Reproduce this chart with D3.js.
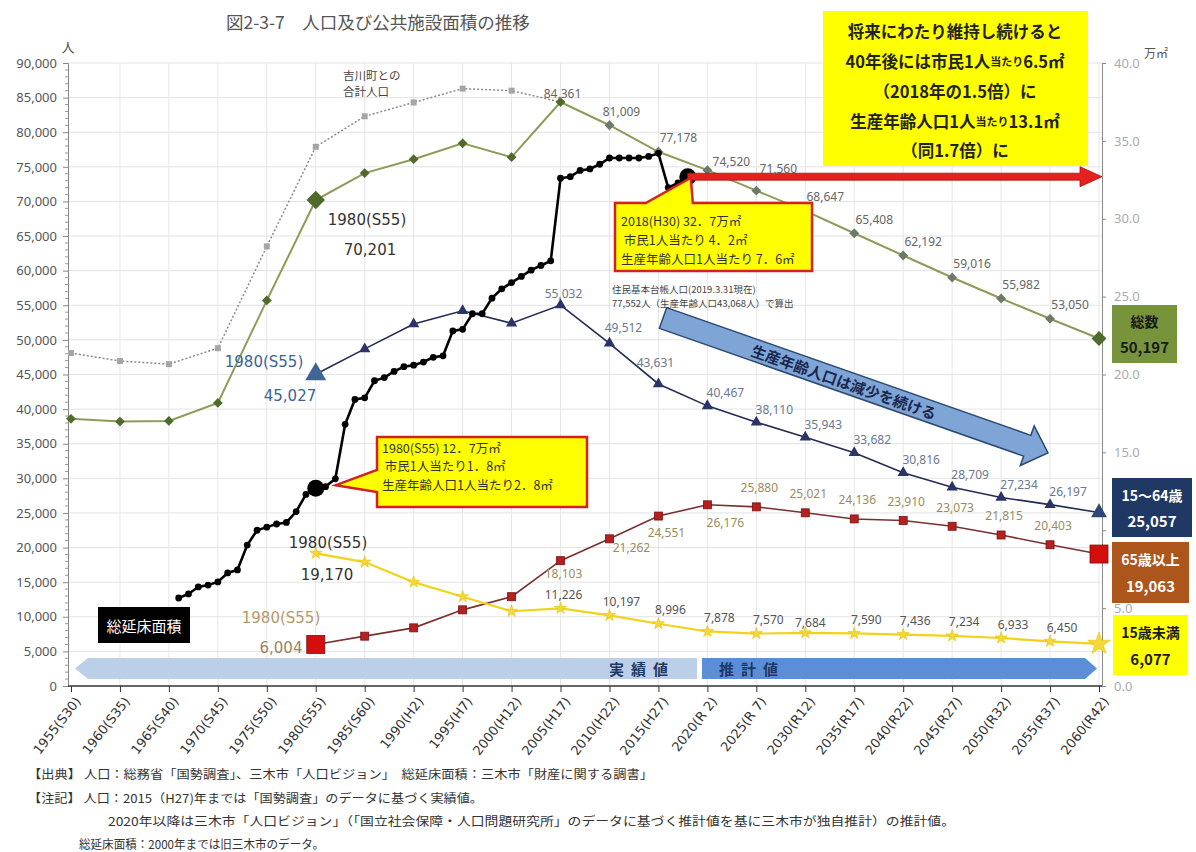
<!DOCTYPE html>
<html><head><meta charset="utf-8">
<script src="https://cdn.jsdelivr.net/npm/d3@7"></script>
<style>
body{margin:0;background:#fff;}
svg{display:block;font-family:"Noto Sans CJK JP","Noto Sans",sans-serif;}
</style></head><body>
<svg id="c" width="1196" height="852"></svg>
<script>
// ---------------- DATA ----------------
const years = [1955,1960,1965,1970,1975,1980,1985,1990,1995,2000,2005,2010,2015,2020,2025,2030,2035,2040,2045,2050,2055,2060];
const xLabels = ["1955(S30)","1960(S35)","1965(S40)","1970(S45)","1975(S50)","1980(S55)","1985(S60)","1990(H2)","1995(H7)","2000(H12)","2005(H17)","2010(H22)","2015(H27)","2020(R 2)","2025(R 7)","2030(R12)","2035(R17)","2040(R22)","2045(R27)","2050(R32)","2055(R37)","2060(R42)"];
const totalPop = [38600,38200,38300,40900,55700,70201,74100,76100,78400,76400,84361,81009,77178,74520,71560,68647,65408,62192,59016,55982,53050,50197];
const combinedYears = [1955,1960,1965,1970,1975,1980,1985,1990,1995,2000,2005];
const combinedPop = [48100,46950,46500,48800,63500,77900,82300,84300,86300,86000,84361];
const workYears = [1980,1985,1990,1995,2000,2005,2010,2015,2020,2025,2030,2035,2040,2045,2050,2055,2060];
const workPop = [45027,48700,52300,54200,52400,55032,49512,43631,40467,38110,35943,33682,30816,28709,27234,26197,25057];
const elderPop = [6004,7200,8400,11000,12900,18103,21262,24551,26176,25880,25021,24136,23910,23073,21815,20403,19063];
const childPop = [19170,17900,15000,12900,10800,11226,10197,8996,7878,7570,7684,7590,7436,7234,6933,6450,6077];
const floorYears = d3.range(1966, 2019);
const floorArea = [5.65,5.91,6.36,6.48,6.68,7.26,7.45,9.05,10.0,10.2,10.4,10.5,11.2,12.3,12.7,12.8,13.3,16.8,18.4,18.5,19.6,19.8,20.2,20.5,20.6,20.8,21.1,21.2,22.8,22.9,23.9,23.9,24.9,25.5,25.9,26.3,26.7,27.0,27.3,32.6,32.7,33.1,33.2,33.5,33.9,33.9,33.9,33.9,34.0,34.2,32.0,32.3,32.7];
const leftTicks = d3.range(0, 90001, 5000);
const rightTicks = d3.range(0, 40.1, 5);

// ---------------- SETUP ----------------
const svg = d3.select("#c");
const X0 = 68, X1 = 1102, Y0 = 686, Y1 = 63;
const x = d3.scaleLinear().domain([1955,2060]).range([71,1099]);
const yL = d3.scaleLinear().domain([0,90000]).range([Y0,Y1]);
const yR = d3.scaleLinear().domain([0,40]).range([Y0,Y1]);
const fmt = d3.format(",");
const NUMF = "Noto Sans, sans-serif";
const WIDEF = "DejaVu Sans, sans-serif";

// title
svg.append("text").attr("x",226).attr("y",21).attr("font-size",17.5).attr("fill","#555")
  .attr("dominant-baseline","central").text("図2-3-7　人口及び公共施設面積の推移");

// grid
const g = svg.append("g");
g.selectAll("line.h").data(leftTicks.filter(d=>d>0)).join("line")
  .attr("x1",X0).attr("x2",X1).attr("y1",d=>yL(d)).attr("y2",d=>yL(d))
  .attr("stroke","#e3e3e3").attr("stroke-width",1);
g.selectAll("line.v").data(years.slice(1)).join("line")
  .attr("x1",d=>x(d)).attr("x2",d=>x(d)).attr("y1",Y1).attr("y2",Y0)
  .attr("stroke","#e6e6e6").attr("stroke-width",1);

// left axis
const la = svg.append("g").attr("transform",`translate(${X0},0)`)
  .call(d3.axisLeft(yL).tickValues(leftTicks).tickFormat(fmt).tickSize(5).tickPadding(6));
la.select(".domain").attr("stroke","#888");
la.selectAll(".tick line").attr("stroke","#888");
la.selectAll("text").attr("font-size",13).attr("fill","#555").attr("font-family",NUMF);
svg.append("g").selectAll("line").data(d3.range(0,90001,1000).filter(d=>d%5000)).join("line")
  .attr("x1",X0-3).attr("x2",X0).attr("y1",d=>yL(d)).attr("y2",d=>yL(d)).attr("stroke","#999");
svg.append("text").attr("x",68).attr("y",52).attr("font-size",13).attr("fill","#555")
  .attr("text-anchor","middle").text("人");

// right axis
const ra = svg.append("g").attr("transform",`translate(${X1},0)`)
  .call(d3.axisRight(yR).tickValues(rightTicks).tickFormat(d3.format(".1f")).tickSize(4).tickPadding(8));
ra.select(".domain").attr("stroke","#888");
ra.selectAll(".tick line").attr("stroke","#888");
ra.selectAll("text").attr("font-size",13).attr("fill","#aaa").attr("font-family",NUMF);
svg.append("text").attr("x",1156).attr("y",58).attr("font-size",12).attr("fill","#555")
  .attr("text-anchor","middle").text("万㎡");

// bottom axis
const ba = svg.append("g").attr("transform",`translate(0,${Y0})`)
  .call(d3.axisBottom(x).tickValues(years).tickFormat((d,i)=>xLabels[i]).tickSize(6).tickSizeOuter(0));
ba.select(".domain").attr("d",`M${X0},0H${X1}`).attr("stroke","#333").attr("stroke-width",1.5);
ba.selectAll(".tick line").attr("stroke","#333");
ba.selectAll(".tick text").attr("font-size",13).attr("fill","#333").attr("font-family",WIDEF)
  .attr("text-anchor","end").attr("dy",0).attr("transform","translate(3,10) rotate(-52)");

// bottom bands
const bandTop = 658, bandBot = 679, bandMid = (bandTop+bandBot)/2;
svg.append("path").attr("d",`M75,${bandMid} L88,${bandTop} L697,${bandTop} L697,${bandBot} L88,${bandBot} Z`)
  .attr("fill","#bccfe8");
svg.append("path").attr("d",`M702,${bandTop} L1085,${bandTop} L1097,${bandMid} L1085,${bandBot} L702,${bandBot} Z`)
  .attr("fill","#5b8ed6");
svg.append("text").attr("x",642).attr("y",bandMid).attr("dominant-baseline","central").attr("text-anchor","middle")
  .attr("font-size",15).attr("font-weight","bold").attr("fill","#1f3864").attr("letter-spacing",7).text("実績値");
svg.append("text").attr("x",752).attr("y",bandMid).attr("dominant-baseline","central").attr("text-anchor","middle")
  .attr("font-size",15).attr("font-weight","bold").attr("fill","#1f3864").attr("letter-spacing",7).text("推計値");

// ---------------- SERIES ----------------
const line = (xs, ys, ysc) => d3.line().x((d,i)=>x(xs[i])).y(d=>ysc(d))(ys);
const sym = (type,size)=>d3.symbol().type(type).size(size)();

// combined (dotted)
svg.append("path").attr("d",line(combinedYears,combinedPop,yL)).attr("fill","none")
  .attr("stroke","#8a8a8a").attr("stroke-width",1.5).attr("stroke-dasharray","2,2");
svg.append("g").selectAll("rect").data(combinedPop.slice(0,-1)).join("rect")
  .attr("x",(d,i)=>x(combinedYears[i])-3).attr("y",d=>yL(d)-3).attr("width",6).attr("height",6)
  .attr("fill","#a5a5a5");

// total
svg.append("path").attr("d",line(years,totalPop,yL)).attr("fill","none")
  .attr("stroke","#8c9c58").attr("stroke-width",2);
svg.append("g").selectAll("path").data(totalPop).join("path")
  .attr("transform",(d,i)=>`translate(${x(years[i])},${yL(d)}) rotate(45)`)
  .attr("d",(d,i)=>sym(d3.symbolSquare, years[i]===1980?170:years[i]===2060?110:48))
  .attr("fill",(d,i)=>years[i]<=2005||years[i]===2060?"#4f6b2c":"#6b7b68");

// working age
svg.append("path").attr("d",line(workYears,workPop,yL)).attr("fill","none")
  .attr("stroke","#222c55").attr("stroke-width",1.6);
svg.append("g").selectAll("path").data(workPop).join("path")
  .attr("transform",(d,i)=>`translate(${x(workYears[i])},${yL(d)})`)
  .attr("d",(d,i)=>sym(d3.symbolTriangle, workYears[i]===1980?190:workYears[i]===2060?110:55))
  .attr("fill",(d,i)=>workYears[i]===1980?"#3f6596":workYears[i]===2060?"#2d4877":"#2a3466");

// elderly
svg.append("path").attr("d",line(workYears,elderPop,yL)).attr("fill","none")
  .attr("stroke","#7a3030").attr("stroke-width",1.6);
svg.append("g").selectAll("rect").data(elderPop).join("rect")
  .each(function(d,i){
    const s = (workYears[i]===1980||workYears[i]===2060)?18:8;
    d3.select(this).attr("x",x(workYears[i])-s/2).attr("y",yL(d)-s/2).attr("width",s).attr("height",s);
  })
  .attr("fill",(d,i)=>(workYears[i]===1980||workYears[i]===2060)?"#d40d0d":"#b52020")
  .attr("stroke","#7a1010").attr("stroke-width",0.8);

// children
svg.append("path").attr("d",line(workYears,childPop,yL)).attr("fill","none")
  .attr("stroke","#f2d21a").attr("stroke-width",2.2);
svg.append("g").selectAll("path").data(childPop).join("path")
  .attr("transform",(d,i)=>`translate(${x(workYears[i])},${yL(d)})`)
  .attr("d",(d,i)=>sym(d3.symbolStar, workYears[i]===2060?160:45))
  .attr("fill","#f3d83a").attr("stroke","#e6c200").attr("stroke-width",0.6);

// floor area (black)
svg.append("path").attr("d",line(floorYears,floorArea,yR)).attr("fill","none")
  .attr("stroke","#000").attr("stroke-width",2.6);
svg.append("g").selectAll("circle").data(floorArea).join("circle")
  .attr("cx",(d,i)=>x(floorYears[i])).attr("cy",d=>yR(d))
  .attr("r",(d,i)=>(floorYears[i]===1980||floorYears[i]===2018)?8.5:3.4).attr("fill","#000");

// ---------------- RED ARROW ----------------
const ax0 = x(2018), ay = yR(floorArea[floorArea.length-1]);
svg.append("path").attr("d",`M${ax0},${ay-3.5} L1080,${ay-3.5} L1080,${ay-10} L1102,${ay} L1080,${ay+10} L1080,${ay+3.5} L${ax0},${ay+3.5} Z`)
  .attr("fill","#e3211f").attr("stroke","#b01010").attr("stroke-width",0.8);

// ---------------- DATA LABELS ----------------
function labels(xs, vals, fromYear, toYear, dx, dy, color, over={}){
  const gg = svg.append("g");
  vals.forEach((v,i)=>{
    const yr = xs[i];
    if(yr<fromYear||yr>toYear) return;
    const o = over[yr]||[dx,dy];
    gg.append("text").attr("x",x(yr)+o[0]).attr("y",yL(v)+o[1]).attr("text-anchor","middle")
      .attr("dominant-baseline","central").attr("font-size",12).attr("fill",color)
      .attr("font-family",NUMF).text(fmt(v));
  });
}
labels(years,totalPop,2005,2055,20,-14,"#666",{2005:[2,-9],2010:[12,-14],2020:[24,-9],2025:[22,-22]});
labels(workYears,workPop,2005,2055,18,-13,"#6b7890",{2005:[3,-12],2010:[14,-16],2015:[-3,-21]});
labels(workYears,elderPop,2005,2020,10,14,"#9a8c5c",{2005:[3,13],2010:[22,9],2015:[8,16],2020:[18,18]});
labels(workYears,elderPop,2025,2055,3,-19,"#9a8c5c");
labels(workYears,childPop,2005,2055,12,-14,"#555",{2005:[3,-14],2030:[5,-10]});

// 1980 annotations
function t(xp,yp,str,size,color,weight){
  return svg.append("text").attr("x",xp).attr("y",yp).attr("text-anchor","middle").attr("dominant-baseline","central")
    .attr("font-size",size).attr("fill",color).attr("font-weight",weight||"normal")
    .attr("font-family",WIDEF).text(str);
}
t(367,220,"1980(S55)",15,"#333"); t(370,250,fmt(totalPop[5]),15,"#333");
t(264,362,"1980(S55)",15,"#3b6496"); t(290,396,fmt(workPop[0]),15,"#3b6496");
t(328,543,"1980(S55)",15,"#333"); t(327,575,fmt(childPop[0]),15,"#333");
t(281,618,"1980(S55)",15,"#b59a6c"); t(281,648,fmt(elderPop[0]),15,"#9a8560");

// 吉川町 label
svg.append("text").attr("x",343).attr("y",80).attr("font-size",11.5).attr("fill","#444").text("吉川町との");
svg.append("text").attr("x",343).attr("y",96).attr("font-size",11.5).attr("fill","#444").text("合計人口");

// 総延床面積 box
svg.append("rect").attr("x",98).attr("y",607).attr("width",92).attr("height",36).attr("fill","#000");
svg.append("text").attr("x",144).attr("y",625).attr("text-anchor","middle").attr("dominant-baseline","central")
  .attr("font-size",15).attr("fill","#fff").text("総延床面積");

// ---------------- CALLOUTS ----------------
// 2018
{
  const tx = x(2018)+3, ty = yR(32.7)+1;
  svg.append("path").attr("d",`M615,203 L${tx-45},203 L${tx},${ty} L${tx+2},203 L812,203 L812,271 L615,271 Z`)
    .attr("fill","#ffff00").attr("stroke","#d42020").attr("stroke-width",2.5);
  const lines = ["2018(H30) 32．7万㎡"," 市民1人当たり 4．2㎡","生産年齢人口1人当たり 7．6㎡"];
  lines.forEach((s,i)=>svg.append("text").attr("x",621).attr("y",220+i*19).attr("dominant-baseline","central")
    .attr("font-size",12.5).attr("fill","#333").attr("xml:space","preserve").text(s));
  svg.append("text").attr("x",612).attr("y",289).attr("font-size",9.5).attr("fill","#444").attr("dominant-baseline","central")
    .text("住民基本台帳人口(2019.3.31現在)");
  svg.append("text").attr("x",612).attr("y",303).attr("font-size",9.5).attr("fill","#444").attr("dominant-baseline","central")
    .text("77,552人（生産年齢人口43,068人）で算出");
}
// 1980
{
  const tx = x(1980)+20, ty = yR(12.7)-3;
  svg.append("path").attr("d",`M377,437 L587,437 L587,507 L377,507 L377,492 L${tx},${ty} L377,470 Z`)
    .attr("fill","#ffff00").attr("stroke","#d42020").attr("stroke-width",2.5);
  const lines = ["1980(S55) 12．7万㎡"," 市民1人当たり1．8㎡","生産年齢人口1人当たり2．8㎡"];
  lines.forEach((s,i)=>svg.append("text").attr("x",382).attr("y",447+i*18.5).attr("dominant-baseline","central")
    .attr("font-size",12.5).attr("fill","#333").attr("xml:space","preserve").text(s));
}

// ---------------- BLUE ARROW ----------------
{
  const S=[663,318], T=[1048,453];
  const ang = Math.atan2(T[1]-S[1],T[0]-S[0])*180/Math.PI;
  const L = Math.hypot(T[0]-S[0],T[1]-S[1]);
  const hw=11, hh=21, hl=22;
  const ga = svg.append("g").attr("transform",`translate(${S[0]},${S[1]}) rotate(${ang})`);
  ga.append("path").attr("d",`M0,${-hw} L${L-hl},${-hw} L${L-hl},${-hh} L${L},0 L${L-hl},${hh} L${L-hl},${hw} L0,${hw} Z`)
    .attr("fill","#7ea5d6").attr("stroke","#2b4a72").attr("stroke-width",1.5);
  ga.append("text").attr("x",L/2-12).attr("y",0).attr("text-anchor","middle").attr("dominant-baseline","central")
    .attr("font-size",15).attr("font-weight","bold").attr("fill","#1a2850").text("生産年齢人口は減少を続ける");
}

// ---------------- TOP-RIGHT YELLOW BOX ----------------
{
  svg.append("rect").attr("x",823).attr("y",11).attr("width",265).attr("height",155).attr("fill","#ffff00");
  const cx = 955;
  const mk = (yp)=>svg.append("text").attr("x",cx).attr("y",yp).attr("text-anchor","middle").attr("dominant-baseline","central")
    .attr("font-size",16.5).attr("font-weight","bold").attr("fill","#222");
  mk(31).text("将来にわたり維持し続けると");
  const l2 = mk(61); l2.append("tspan").text("40年後には市民1人"); l2.append("tspan").attr("font-size",11).text("当たり"); l2.append("tspan").text("6.5㎡");
  mk(91).text("（2018年の1.5倍）に");
  const l4 = mk(121); l4.append("tspan").text("生産年齢人口1人"); l4.append("tspan").attr("font-size",11).text("当たり"); l4.append("tspan").text("13.1㎡");
  mk(150).text("（同1.7倍）に");
}

// ---------------- RIGHT SIDE BOXES ----------------
function box(x0,y0,w,h,fill,color,l1,l2){
  svg.append("rect").attr("x",x0).attr("y",y0).attr("width",w).attr("height",h).attr("fill",fill);
  svg.append("text").attr("x",x0+w/2).attr("y",y0+h*0.28).attr("text-anchor","middle").attr("dominant-baseline","central")
    .attr("font-size",14).attr("font-weight","bold").attr("fill",color).text(l1);
  svg.append("text").attr("x",x0+w/2).attr("y",y0+h*0.72).attr("text-anchor","middle").attr("dominant-baseline","central")
    .attr("font-size",15).attr("font-weight","bold").attr("fill",color).text(l2);
}
box(1112,305,65,58,"#77933c","#1a1a1a","総数",fmt(totalPop[totalPop.length-1]));
box(1112,478,80,59,"#1f3864","#fff","15～64歳",fmt(workPop[workPop.length-1]));
box(1112,542,77,61,"#ad561c","#fff","65歳以上",fmt(elderPop[elderPop.length-1]));
box(1113,615,75,60,"#ffff00","#1a1a1a","15歳未満",fmt(childPop[childPop.length-1]));

// ---------------- FOOTNOTES ----------------
const notes = [
  [28,773,"【出典】 人口：総務省「国勢調査」、三木市「人口ビジョン」　総延床面積：三木市「財産に関する調書」",625],
  [28,797,"【注記】 人口：2015（H27)年までは「国勢調査」のデータに基づく実績値。",455],
  [108,820,"2020年以降は三木市「人口ビジョン」（「国立社会保障・人口問題研究所」のデータに基づく推計値を基に三木市が独自推計）の推計値。",847],
  [79,843,"総延床面積：2000年までは旧三木市のデータ。",245]
];
notes.forEach(n=>svg.append("text").attr("x",n[0]).attr("y",n[1]).attr("dominant-baseline","central")
  .attr("font-size",12).attr("fill","#333").attr("textLength",n[3]).attr("lengthAdjust","spacingAndGlyphs").text(n[2]));
</script>
</body></html>
